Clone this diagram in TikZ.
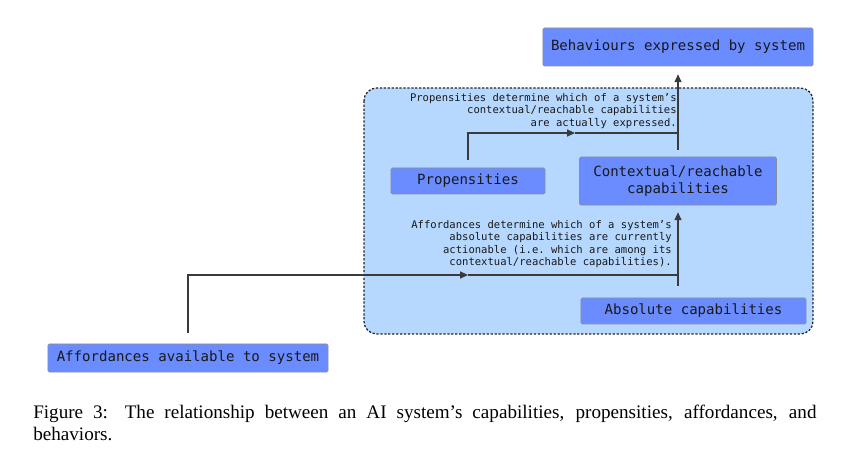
\documentclass[tikz,border=0pt]{standalone}
\usepackage{fontspec}
\setmainfont{Liberation Serif}
\setmonofont{DejaVu Sans Mono}
\usetikzlibrary{calc,arrows.meta}
\definecolor{boxblue}{HTML}{6A8CFF}
\definecolor{panelblue}{HTML}{B6D8FF}
\definecolor{edgegrey}{HTML}{8A8F99}
\definecolor{linkgrey}{HTML}{3A3A3A}
\tikzset{
  block/.style={draw=edgegrey, fill=boxblue, text=black!90, inner sep=0pt, rounded corners=1pt,
    font=\ttfamily\fontsize{10}{12.4}\selectfont, align=center},
  note/.style={anchor=north east, inner sep=0pt, align=right, text=black!90,
    font=\ttfamily\fontsize{7.5}{8.9}\selectfont},
  link/.style={draw=linkgrey, line width=0.9pt},
  tip/.style={-{Triangle[length=5.6pt,width=5pt]}}
}

\begin{document}
\begin{tikzpicture}[x=0.025cm, y=-0.025cm]
		%%%%% START %%%%%
		\useasboundingbox (0, 0) rectangle (851, 464);
		
		% panel
		\draw[fill=panelblue, draw=black!85, line width=0.9pt, dash pattern=on 1.6pt off 1.2pt, rounded corners=9pt] (364, 88) rectangle (813, 334);
		
		\node[block, minimum width=6.75cm, minimum height=0.95cm] (beh) at (678, 47) {Behaviours expressed by system};
		\node[block, minimum width=3.85cm, minimum height=0.65cm] (prop) at (468, 181) {Propensities};
		\node[block, minimum width=4.925cm, minimum height=1.2cm] (ctx) at (678, 181) {Contextual/reachable\\capabilities};
		\node[block, minimum width=5.625cm, minimum height=0.65cm] (abs) at (693.5, 311) {Absolute capabilities};
		\node[block, minimum width=7cm, minimum height=0.7cm] (aff) at (188, 358) {Affordances available to system};
		
		\node[note] (propnote) at (677, 93) {Propensities determine which of a system’s\\contextual/reachable capabilities\\are actually expressed.};
		\node[note] (affnote) at (672, 220) {Affordances determine which of a system’s\\absolute capabilities are currently\\actionable (i.e. which are among its\\contextual/reachable capabilities).};
		
		\coordinate (pmid) at (575, 133);
		\coordinate (pjoin) at (678, 133);
		\coordinate (amid) at (468, 275);
		\coordinate (ajoin) at (678, 275);
		
		\draw[link, tip, shorten <=5.7pt] (prop.north) |- (pmid);
		\draw[link] (pmid) -- (pjoin);
		\draw[link, tip, shorten <=5pt, shorten >=5.7pt] (ctx.north) -- (beh.south);
		
		\draw[link, tip, shorten <=7.8pt] (aff.north) |- (amid);
		\draw[link] (amid) -- (ajoin);
		\draw[link, tip, shorten <=8.5pt, shorten >=5pt] (ctx.south |- abs.north) -- (ctx.south);
		
		% caption
		\node[anchor=north west, inner sep=0pt] (caption) at (33, 405) {\parbox{557pt}{\fontsize{13.6}{15.6}\selectfont Figure 3: The relationship between an AI system’s capabilities, propensities, affordances, and\linebreak behaviors.}};
		%%%%% END %%%%%
\end{tikzpicture}
\end{document}
